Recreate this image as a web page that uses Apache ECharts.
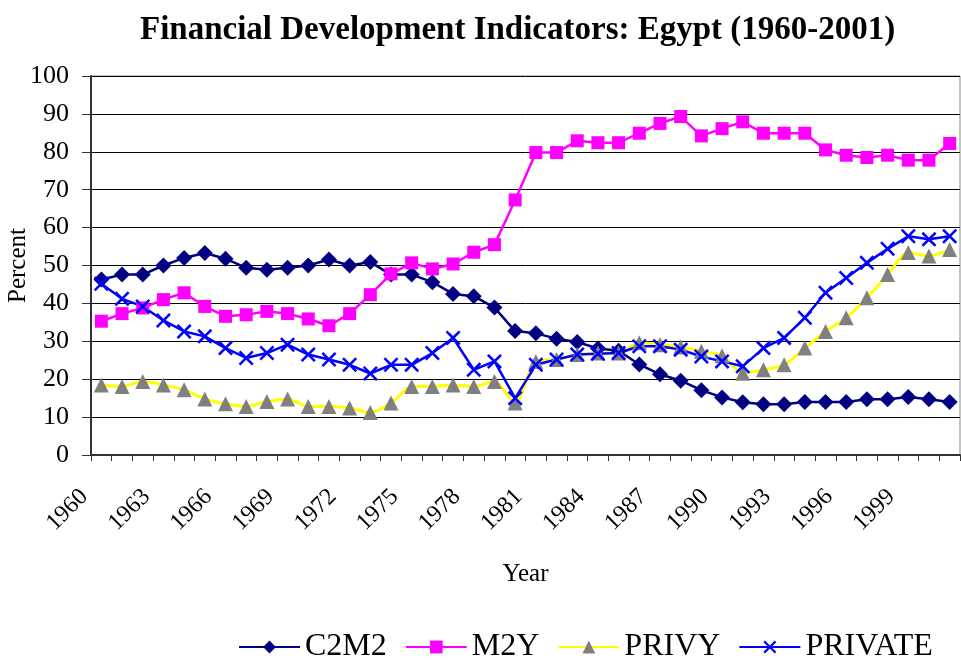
<!DOCTYPE html>
<html>
<head>
<meta charset="utf-8">
<script src="https://cdn.jsdelivr.net/npm/echarts@6/dist/echarts.min.js"></script>
<style>
  html, body { margin: 0; padding: 0; background: #fff; }
  #chart { width: 961px; height: 668px; }
</style>
</head>
<body>
<div id="chart"></div>
<script>
// Years on the x axis
const years = [];
for (let y = 1960; y <= 2001; y++) years.push(String(y));

// Series values (percent)
const c2m2 = [46.3, 47.6, 47.6, 50, 52, 53.3, 51.8, 49.4, 48.9, 49.4, 50, 51.6, 50, 50.9,
    47.6, 47.6, 45.6, 42.5, 41.9, 38.9, 32.7, 32.1, 30.7, 29.8, 28.1, 27.5, 23.9, 21.3,
    19.6, 17.1, 15.2, 13.9, 13.4, 13.4, 14, 14, 14, 14.7, 14.7, 15.3, 14.7, 14];
const m2y = [35.3, 37.3, 38.8, 41, 42.8, 39.2, 36.6, 37, 37.9, 37.3, 35.9, 34.1, 37.3, 42.3,
    47.8, 50.7, 49.1, 50.4, 53.5, 55.5, 67.3, 79.8, 79.8, 82.9, 82.4, 82.4, 84.9, 87.5,
    89.3, 84.2, 86.1, 87.9, 84.9, 84.9, 84.9, 80.5, 79.1, 78.5, 79.1, 77.8, 77.8, 82.2];
const privy = [18.5, 18.1, 19.4, 18.5, 17.2, 14.8, 13.5, 12.8, 14.1, 14.8, 12.8, 12.8, 12.4, 11.2,
    13.7, 18.1, 18.1, 18.5, 18.1, 19.4, 13.7, 24.7, 25.2, 26.5, 26.9, 26.9, 29.6, 29.1,
    28.5, 27.4, 26.2, 21.6, 22.5, 23.8, 28.2, 32.6, 36.2, 41.5, 47.6, 53.4, 52.5, 54.2];
const privateCredit = [45.2, 41.2, 39.2, 35.5, 32.6, 31.3, 28.2, 25.6, 26.9, 29.1, 26.5, 25.2, 23.8, 21.5,
    23.8, 23.8, 26.9, 30.9, 22.5, 24.7, 15, 23.8, 25.2, 26.5, 26.7, 26.9, 28.7, 28.7,
    27.8, 26, 24.7, 23.4, 28.2, 30.9, 36.2, 42.8, 46.7, 50.7, 54.4, 57.7, 56.9, 57.7];

const serif = 'Liberation Serif';
// filled "x" shape so it can be drawn as a symbol
const crossPath = 'path://M0,1.2L1.2,0L5,3.8L8.8,0L10,1.2L6.2,5L10,8.8L8.8,10L5,6.2L1.2,10L0,8.8L3.8,5Z';

const chart = echarts.init(document.getElementById('chart'));

chart.setOption({
    backgroundColor: '#fff',
    animation: false,
    title: {
        text: 'Financial Development Indicators: Egypt (1960-2001)',
        left: 135,
        top: 9,
        textStyle: { fontFamily: serif, fontWeight: 'bold', fontSize: 33, color: '#000' }
    },
    legend: {
        left: 233,
        top: 626,
        itemWidth: 61,
        itemHeight: 16,
        itemGap: 18,
        textStyle: { fontFamily: serif, fontSize: 32, color: '#000' },
        data: ['C2M2', 'M2Y', 'PRIVY', 'PRIVATE']
    },
    grid: {
        left: 91,
        right: 1,
        top: 76,
        bottom: 213,
        outerBoundsMode: 'none',
        show: true,
        borderColor: '#888',
        borderWidth: 1
    },
    xAxis: {
        type: 'category',
        data: years,
        boundaryGap: true,
        name: 'Year',
        nameLocation: 'middle',
        nameGap: 107,
        nameMoveOverlap: false,
        nameTextStyle: { fontFamily: serif, fontSize: 25, color: '#000' },
        axisLine: { lineStyle: { color: '#333', width: 2 } },
        axisTick: { show: true, interval: 0, length: 6, lineStyle: { color: '#333' } },
        axisLabel: {
            interval: 2,
            rotate: 45,
            margin: 21,
            padding: [0, 24, 0, 0],
            fontFamily: serif,
            fontSize: 24,
            color: '#000'
        },
        splitLine: { show: false }
    },
    yAxis: {
        type: 'value',
        min: 0,
        max: 100,
        interval: 10,
        name: 'Percent',
        nameLocation: 'middle',
        nameGap: 60,
        nameRotate: 90,
        nameMoveOverlap: false,
        nameTextStyle: { fontFamily: serif, fontSize: 25, color: '#000' },
        axisLine: { show: true, lineStyle: { color: '#333', width: 2 } },
        axisTick: { show: true, inside: false, length: 9, lineStyle: { color: '#333' } },
        axisLabel: { margin: 22, fontFamily: serif, fontSize: 26, color: '#000' },
        splitLine: { show: true, lineStyle: { color: '#000', width: 1 } }
    },
    series: [
        {
            name: 'C2M2',
            type: 'line',
            data: c2m2,
            showAllSymbol: true,
            symbol: 'diamond',
            symbolSize: 16,
            lineStyle: { color: '#000080', width: 2.5 },
            itemStyle: { color: '#000080' }
        },
        {
            name: 'M2Y',
            type: 'line',
            data: m2y,
            showAllSymbol: true,
            symbol: 'rect',
            symbolSize: 13,
            lineStyle: { color: '#ff00ff', width: 2.5 },
            itemStyle: { color: '#ff00ff' }
        },
        {
            name: 'PRIVY',
            type: 'line',
            data: privy,
            showAllSymbol: true,
            smooth: 0.25,
            symbol: 'triangle',
            symbolSize: 15,
            lineStyle: { color: '#ffff00', width: 3 },
            itemStyle: { color: '#808080' }
        },
        {
            name: 'PRIVATE',
            type: 'line',
            data: privateCredit,
            showAllSymbol: true,
            symbol: crossPath,
            symbolSize: 15,
            lineStyle: { color: '#0000ff', width: 2.5 },
            itemStyle: { color: '#0000ff' }
        }
    ]
});

window.addEventListener('resize', () => {
    chart.resize();
});
</script>
</body>
</html>
